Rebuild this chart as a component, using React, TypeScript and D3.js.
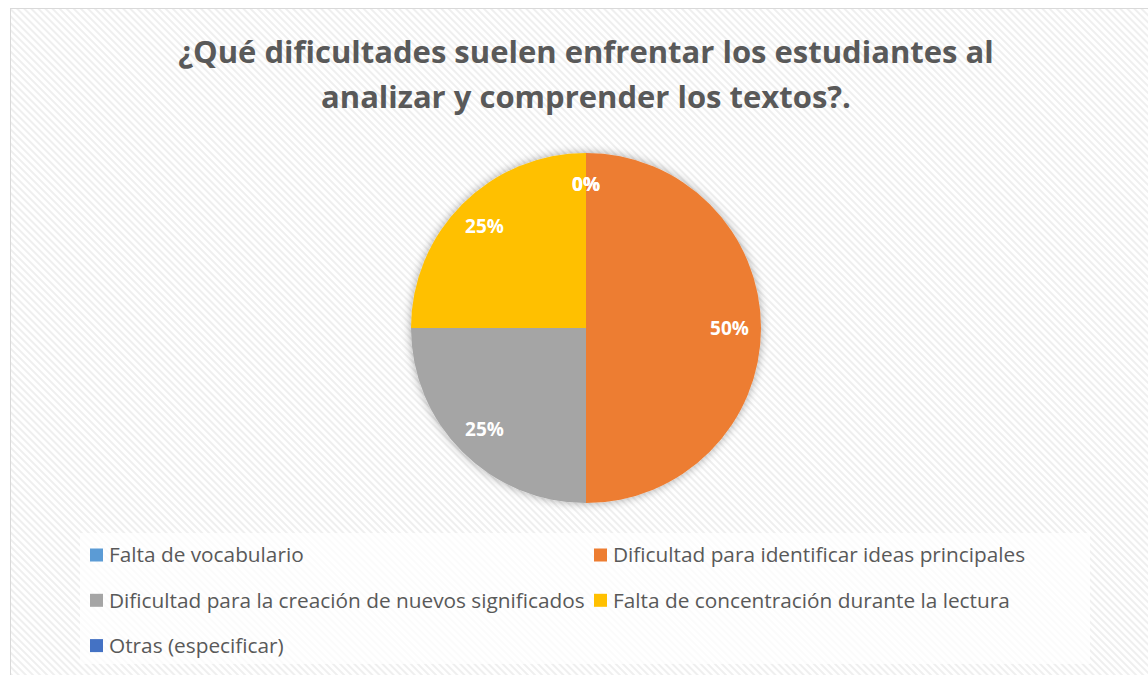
import React from "react";
import * as d3 from "d3";

const title = ["¿Qué dificultades suelen enfrentar los estudiantes al", "analizar y comprender los textos?."];
const categories = [
  "Falta de vocabulario",
  "Dificultad para identificar ideas principales",
  "Dificultad para la creación de nuevos significados",
  "Falta de concentración durante la lectura",
  "Otras (especificar)",
];
const values = [0, 50, 25, 25, 0];
const colors = ["#5B9BD5", "#ED7D31", "#A5A5A5", "#FFC000", "#4472C4"];

const W = 1148;
const H = 675;
const cx = 586;
const cy = 328;
const R = 175;
const FONT = "'Open Sans', 'Noto Sans', sans-serif";

export default function App() {
  const pie = d3.pie<number>().sort(null).value((d) => d)(values);
  const arc = d3.arc<d3.PieArcDatum<number>>().innerRadius(0).outerRadius(R);
  const labelArc = d3.arc<d3.PieArcDatum<number>>().innerRadius(R * 0.82).outerRadius(R * 0.82);
  const total = d3.sum(values);
  const fmt = (v: number) => `${Math.round((v / total) * 100)}%`;

  const legendPos = categories.map((_, i) => ({
    x: i % 2 === 0 ? 90 : 594,
    y: 555 + Math.floor(i / 2) * 45.3,
  }));

  return (
    <div style={{ position: "fixed", left: 0, top: 0 }}>
      <svg width={W} height={H} style={{ display: "block" }}>
        <defs>
          <pattern id="stripes" width="5" height="5" patternUnits="userSpaceOnUse" patternTransform="rotate(-45)">
            <rect width="5" height="5" fill="#ffffff" />
            <rect width="2" height="5" fill="#efefef" />
          </pattern>
          <filter id="shadow" x="-20%" y="-20%" width="140%" height="140%">
            <feGaussianBlur in="SourceAlpha" stdDeviation="5" />
            <feComponentTransfer>
              <feFuncA type="linear" slope="0.35" />
            </feComponentTransfer>
            <feMerge>
              <feMergeNode />
              <feMergeNode in="SourceGraphic" />
            </feMerge>
          </filter>
        </defs>
        <rect x={0} y={0} width={W} height={H} fill="#ffffff" />
        <rect x={10.5} y={8.5} width={W} height={H} fill="url(#stripes)" stroke="#d9d9d9" strokeWidth={1} />
        <g fontFamily={FONT} fontWeight="bold" fontSize={31} fill="#595959" textAnchor="middle">
          {title.map((t, i) => (
            <text key={i} x={cx} y={63 + i * 45}>{t}</text>
          ))}
        </g>
        <g transform={`translate(${cx},${cy})`}>
          <g filter="url(#shadow)">
            {pie.map((d, i) => (
              <path key={i} d={arc(d) || ""} fill={colors[i]} />
            ))}
          </g>
          {pie.map((d, i) => {
            const [x, y] = labelArc.centroid(d);
            return (
              <text key={i} x={x} y={y} dy="0.35em" textAnchor="middle" fill="#ffffff" fontFamily={FONT} fontWeight="bold" fontSize={19}>
                {fmt(d.data)}
              </text>
            );
          })}
        </g>
        <rect x={80} y={533} width={1010} height={131} fill="#ffffff" opacity={0.75} />
        <g fontFamily={FONT} fontSize={20.8} fill="#595959">
          {categories.map((c, i) => (
            <g key={i} transform={`translate(${legendPos[i].x},${legendPos[i].y})`}>
              <rect x={0} y={-6.5} width={13} height={13} fill={colors[i]} />
              <text x={19} y={0} dy="0.35em">{c}</text>
            </g>
          ))}
        </g>
      </svg>
    </div>
  );
}
